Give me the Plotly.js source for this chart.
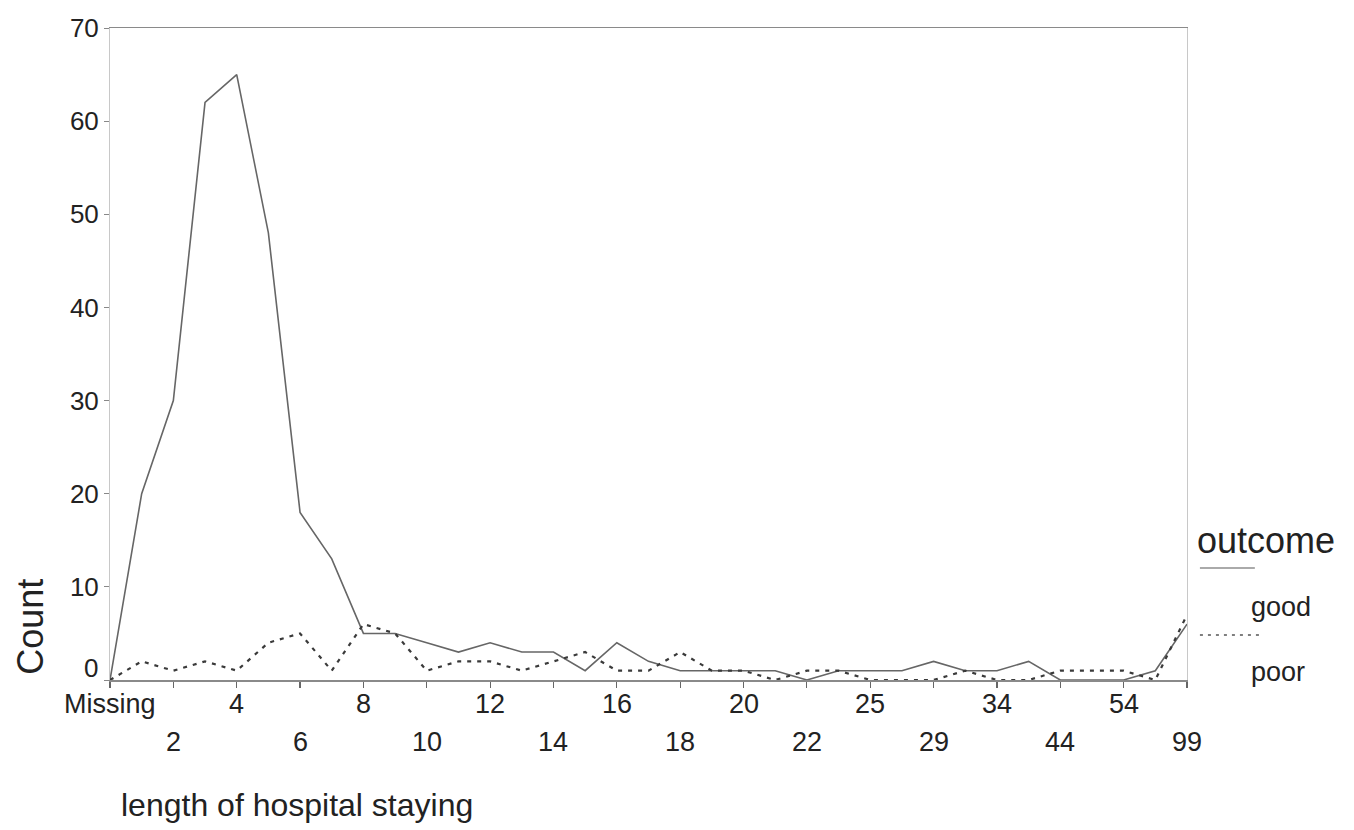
<!DOCTYPE html>
<html>
<head>
<meta charset="utf-8">
<script src="https://cdn.plot.ly/plotly-3.0.1.min.js"></script>
<style>
  html, body { margin: 0; padding: 0; background: #fff; }
  #chart { width: 1354px; height: 830px; }
</style>
</head>
<body>
<div id="chart"></div>
<script>
// Categories of "length of hospital staying" (every category present on the axis)
const categories = ["Missing","1","2","3","4","5","6","7","8","9","10","11","12","13","14","15","16","17","18","19","20","21","22","23","25","27","29","30","34","35","44","45","54","60","99"];
// Labelled categories: first row and second (staggered) row
const labelsRow1 = ["Missing","4","8","12","16","20","25","34","54"];
const labelsRow2 = ["2","6","10","14","18","22","29","44","99"];
// Counts per outcome
const goodCounts = [0,20,30,62,65,48,18,13,5,5,4,3,4,3,3,1,4,2,1,1,1,1,0,1,1,1,2,1,1,2,0,0,0,1,6];
const poorCounts = [0,2,1,2,1,4,5,1,6,5,1,2,2,1,2,3,1,1,3,1,1,0,1,1,0,0,0,1,0,0,1,1,1,0,7];
const yTicks = [0,10,20,30,40,50,60,70];
const seriesNames = ["good","poor"];

const FONT = "Liberation Sans, Arial, sans-serif";
const TXT = "#222";

// category positions (index along the axis)
const pos = c => categories.indexOf(c);
const xIdx = categories.map((c, i) => i);
const allTicks = categories.filter(c => labelsRow1.includes(c) || labelsRow2.includes(c));

const traces = [
  { x: xIdx, y: goodCounts, text: categories, name: seriesNames[0], type: "scatter", mode: "lines",
    line: { color: "#666666", width: 1.6, dash: "solid" }, showlegend: false, hoverinfo: "text+y+name" },
  { x: xIdx, y: poorCounts, text: categories, name: seriesNames[1], type: "scatter", mode: "lines",
    line: { color: "#3a3a3a", width: 2.2, dash: "4px,6px" }, showlegend: false, hoverinfo: "text+y+name" }
];

const annotations = [];
labelsRow1.forEach(c => annotations.push({
  x: pos(c), xref: "x", y: 0, yref: "paper", yanchor: "middle", xanchor: "center",
  yshift: -24, text: c, showarrow: false, font: { family: FONT, size: 27, color: TXT }
}));
labelsRow2.forEach(c => annotations.push({
  x: pos(c), xref: "x", y: 0, yref: "paper", yanchor: "middle", xanchor: "center",
  yshift: -62, text: c, showarrow: false, font: { family: FONT, size: 27, color: TXT }
}));
// the "0" y label sits a little above its tick, as in the reference
annotations.push({ x: 0, xref: "paper", y: yTicks[0], yref: "y", xanchor: "right", yanchor: "middle",
  xshift: -10, yshift: 12, text: String(yTicks[0]), showarrow: false, font: { family: FONT, size: 26, color: TXT } });

// y-axis title (SPSS style, placed low)
annotations.push({ x: -0.074, xref: "paper", y: 0.082, yref: "paper", xanchor: "center", yanchor: "middle",
  text: "Count", textangle: -90, showarrow: false, font: { family: FONT, size: 36, color: TXT } });
// x-axis title
annotations.push({ x: 0.008, xref: "paper", y: -0.192, yref: "paper", xanchor: "left", yanchor: "middle",
  text: "length of hospital staying", showarrow: false, font: { family: FONT, size: 32, color: TXT } });
// legend
annotations.push({ x: 1.0074, xref: "paper", y: 0.2147, yref: "paper", xanchor: "left", yanchor: "middle",
  text: "outcome", showarrow: false, font: { family: FONT, size: 36, color: TXT } });
annotations.push({ x: 1.058, xref: "paper", y: 0.112, yref: "paper", xanchor: "left", yanchor: "middle",
  text: seriesNames[0], showarrow: false, font: { family: FONT, size: 27, color: TXT } });
annotations.push({ x: 1.058, xref: "paper", y: 0.0123, yref: "paper", xanchor: "left", yanchor: "middle",
  text: seriesNames[1], showarrow: false, font: { family: FONT, size: 27, color: TXT } });

const shapes = [
  { type: "line", xref: "paper", yref: "paper", x0: 1.012, x1: 1.063, y0: 0.1718, y1: 0.1718,
    line: { color: "#aaaaaa", width: 2 } },
  { type: "line", xref: "paper", yref: "paper", x0: 1.012, x1: 1.069, y0: 0.069, y1: 0.069,
    line: { color: "#555555", width: 1.6, dash: "3px,5px" } }
];

const layout = {
  width: 1354, height: 830,
  margin: { l: 110, r: 167, t: 28, b: 150 },
  paper_bgcolor: "#ffffff", plot_bgcolor: "#ffffff",
  showlegend: false,
  font: { family: FONT, color: TXT },
  xaxis: {
    type: "linear",
    range: [0, categories.length - 1],
    tickmode: "array", tickvals: allTicks.map(pos), ticktext: allTicks.map(() => ""),
    ticks: "outside", ticklen: 6, tickwidth: 1.2, tickcolor: "#666",
    showgrid: false, zeroline: false,
    showline: true, linecolor: "#8a8a8a", linewidth: 1.5, mirror: true
  },
  yaxis: {
    range: [0, 70], tickmode: "array", tickvals: yTicks,
    ticktext: yTicks.map((v, i) => i === 0 ? "" : String(v)),
    ticks: "outside", ticklen: 5, tickwidth: 1, tickcolor: "#888",
    tickfont: { family: FONT, size: 26, color: TXT },
    showgrid: false, zeroline: false,
    showline: true, linecolor: "#c8c8c8", linewidth: 1, mirror: true
  },
  annotations: annotations,
  shapes: shapes
};

Plotly.newPlot("chart", traces, layout, { displayModeBar: false, staticPlot: true });
</script>
</body>
</html>
